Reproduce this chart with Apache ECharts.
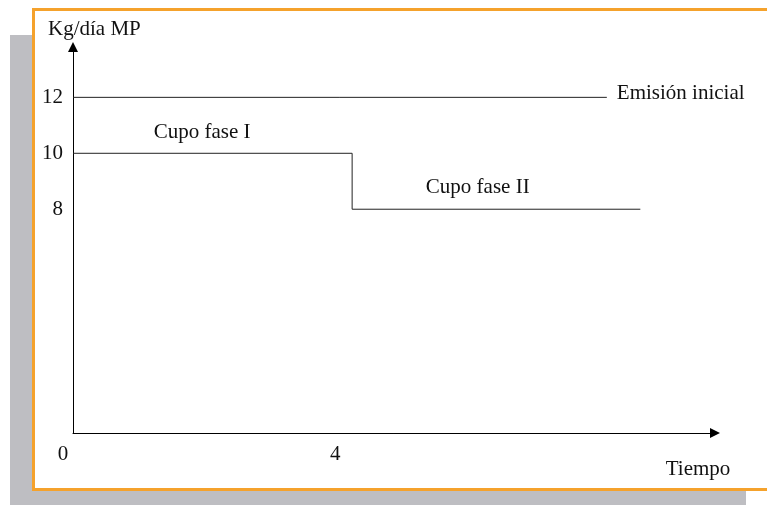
<!DOCTYPE html>
<html>
<head>
<meta charset="utf-8">
<script src="https://cdn.jsdelivr.net/npm/echarts@6/dist/echarts.min.js"></script>
<style>
  html, body { margin: 0; padding: 0; background: #fff; }
  #chart { width: 767px; height: 505px; }
</style>
</head>
<body>
<div id="chart"></div>
<script>
// valores
var emisionX = [0, 7.65];
var emisionY = [12, 12];
var cupoX = [0, 4, 4, 8.13];
var cupoY = [10, 10, 8, 8];
var yTicks = [8, 10, 12];
var xTicks = [0, 4];
// textos sobre el grafico: [x, y, texto]
var notas = [
  [1.85, 10.73, "Cupo fase I"],
  [5.8, 8.76, "Cupo fase II"]
];

var font = "Liberation Serif";
var chart = echarts.init(document.getElementById("chart"));

function pares(xs, ys) {
  var out = [];
  for (var i = 0; i < xs.length; i++) {
    out.push([xs[i], ys[i]]);
  }
  return out;
}

chart.setOption({
  animation: false,
  graphic: [
    {
      type: "rect",
      z: -20,
      shape: { x: 10, y: 35, width: 736, height: 470 },
      style: { fill: "#bebec2" }
    },
    {
      type: "rect",
      z: -10,
      shape: { x: 33.5, y: 9.5, width: 760, height: 480 },
      style: { fill: "#fff", stroke: "#f5a22c", lineWidth: 3 }
    },
    {
      type: "text",
      z: 10,
      x: 48,
      y: 29,
      style: { text: "Kg/día MP", font: "21px " + font, fill: "#111", verticalAlign: "middle" }
    },
    {
      type: "text",
      z: 10,
      x: 698,
      y: 469,
      style: { text: "Tiempo", font: "21px " + font, fill: "#111", align: "center", verticalAlign: "middle" }
    }
  ],
  grid: { left: 73, right: 52, top: 47, bottom: 72 },
  xAxis: {
    type: "value",
    min: 0,
    max: 9.2,
    splitLine: { show: false },
    axisTick: { show: false },
    axisLine: {
      lineStyle: { color: "#000", width: 1 },
      symbol: ["none", "triangle"],
      symbolSize: [10, 10]
    },
    axisLabel: {
      customValues: xTicks,
      margin: 11,
      color: "#111",
      fontFamily: font,
      fontSize: 21,
      formatter: function (v) {
        return v === 0 ? "{a|0}" : "{b|" + v + "}";
      },
      rich: {
        a: { fontFamily: font, fontSize: 21, color: "#111", padding: [0, 20, 0, 0] },
        b: { fontFamily: font, fontSize: 21, color: "#111", padding: [0, 34, 0, 0] }
      }
    }
  },
  yAxis: {
    type: "value",
    min: 0,
    max: 13.8,
    splitLine: { show: false },
    axisTick: { show: false },
    axisLine: {
      show: true,
      lineStyle: { color: "#000", width: 1 },
      symbol: ["none", "triangle"],
      symbolSize: [10, 10]
    },
    axisLabel: {
      customValues: yTicks,
      margin: 10,
      color: "#111",
      fontFamily: font,
      fontSize: 21
    }
  },
  series: [
    {
      name: "Emisión inicial",
      type: "line",
      data: pares(emisionX, emisionY),
      symbol: "none",
      lineStyle: { color: "#222", width: 1 },
      endLabel: {
        show: true,
        formatter: "Emisión inicial",
        distance: 10,
        offset: [0, -4],
        color: "#111",
        fontFamily: font,
        fontSize: 21
      }
    },
    {
      name: "Cupo",
      type: "line",
      data: pares(cupoX, cupoY),
      symbol: "none",
      lineStyle: { color: "#222", width: 1 }
    },
    {
      name: "notas",
      type: "scatter",
      data: notas.map(function (n) { return { value: [n[0], n[1]], name: n[2] }; }),
      symbol: "circle",
      symbolSize: 1,
      itemStyle: { color: "#fff", opacity: 1 },
      label: {
        show: true,
        position: "inside",
        formatter: "{b}",
        color: "#111",
        opacity: 1,
        textBorderWidth: 0,
        fontFamily: font,
        fontSize: 21
      }
    }
  ]
});
</script>
</body>
</html>
